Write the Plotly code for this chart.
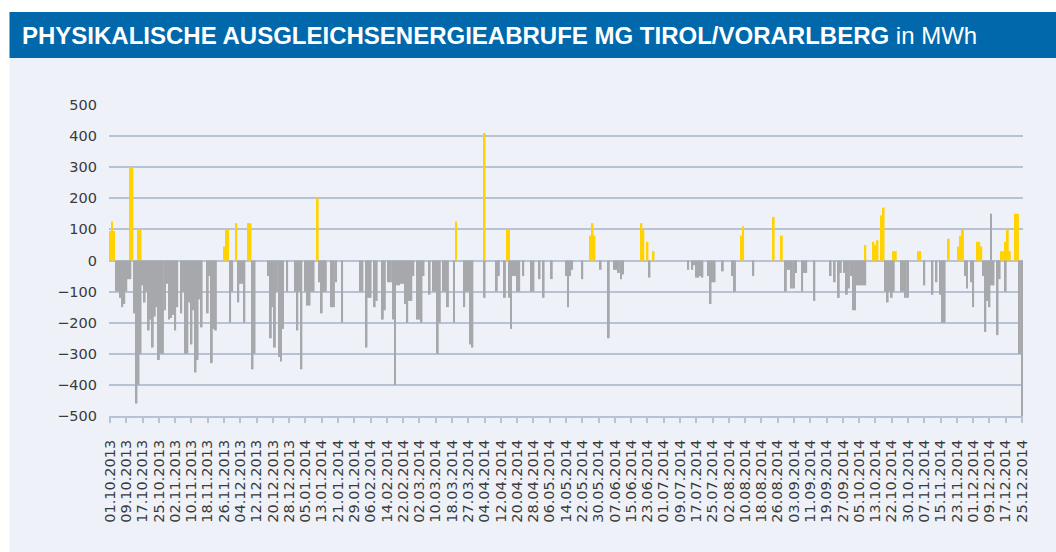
"""Physikalische Ausgleichsenergieabrufe MG Tirol/Vorarlberg - daily bars."""

import pandas as pd
import plotly.graph_objects as go

_PANEL = "#EEF2F8"
_BLUE = "#0068AB"
_GRID = "#B7C3D5"
_TEXT = "#3A3A3A"
_POS = "#FFD200"
_NEG = "#A7A8AB"

# daily categories 01.10.2013 .. 25.12.2014 (two days missing in the source)
_days = pd.date_range("2013-10-01", "2014-12-25")
_days = _days[~_days.isin(pd.to_datetime(["2014-03-23", "2014-10-19"]))]
dates = [d.strftime("%d.%m.%Y") for d in _days]
tick_labels = dates[::8]

# positive calls (MWh), one row per 8 days
pos = [
    95, 125, 95, 0, 0, 0, 0, 0,            # 01.10.2013
    0, 0, 300, 300, 0, 0, 100, 100,         # 09.10.2013
    0, 0, 0, 0, 0, 0, 0, 0,                 # 17.10.2013
    0, 0, 0, 0, 0, 0, 0, 0,                 # 25.10.2013
    0, 0, 0, 0, 0, 0, 0, 0,                 # 02.11.2013
    0, 0, 0, 0, 0, 0, 0, 0,                 # 10.11.2013
    0, 0, 0, 0, 0, 0, 0, 0,                 # 18.11.2013
    45, 100, 100, 0, 0, 0, 120, 0,          # 26.11.2013
    0, 0, 0, 0, 120, 120, 0, 0,             # 04.12.2013
    0, 0, 0, 0, 0, 0, 0, 0,                 # 12.12.2013
    0, 0, 0, 0, 0, 0, 0, 0,                 # 20.12.2013
    0, 0, 0, 0, 0, 0, 0, 0,                 # 28.12.2013
    0, 0, 0, 0, 0, 0, 200, 0,               # 05.01.2014
    0, 0, 0, 0, 0, 0, 0, 0,                 # 13.01.2014
    0, 0, 0, 0, 0, 0, 0, 0,                 # 21.01.2014
    0, 0, 0, 0, 0, 0, 0, 0,                 # 29.01.2014
    0, 0, 0, 0, 0, 0, 0, 0,                 # 06.02.2014
    0, 0, 0, 0, 0, 0, 0, 0,                 # 14.02.2014
    0, 0, 0, 0, 0, 0, 0, 0,                 # 22.02.2014
    0, 0, 0, 0, 0, 0, 0, 0,                 # 02.03.2014
    0, 0, 0, 0, 0, 0, 0, 0,                 # 10.03.2014
    0, 0, 125, 0, 0, 0, 0, 0,               # 18.03.2014
    0, 0, 0, 0, 0, 0, 0, 0,                 # 27.03.2014
    410, 0, 0, 0, 0, 0, 0, 0,               # 04.04.2014
    0, 0, 0, 100, 100, 0, 0, 0,             # 12.04.2014
    0, 0, 0, 0, 0, 0, 0, 0,                 # 20.04.2014
    0, 0, 0, 0, 0, 0, 0, 0,                 # 28.04.2014
    0, 0, 0, 0, 0, 0, 0, 0,                 # 06.05.2014
    0, 0, 0, 0, 0, 0, 0, 0,                 # 14.05.2014
    0, 0, 0, 0, 80, 120, 80, 0,             # 22.05.2014
    0, 0, 0, 0, 0, 0, 0, 0,                 # 30.05.2014
    0, 0, 0, 0, 0, 0, 0, 0,                 # 07.06.2014
    0, 0, 0, 0, 0, 120, 100, 0,             # 15.06.2014
    60, 0, 0, 30, 0, 0, 0, 0,               # 23.06.2014
    0, 0, 0, 0, 0, 0, 0, 0,                 # 01.07.2014
    0, 0, 0, 0, 0, 0, 0, 0,                 # 09.07.2014
    0, 0, 0, 0, 0, 0, 0, 0,                 # 17.07.2014
    0, 0, 0, 0, 0, 0, 0, 0,                 # 25.07.2014
    0, 0, 0, 0, 0, 0, 80, 110,              # 02.08.2014
    0, 0, 0, 0, 0, 0, 0, 0,                 # 10.08.2014
    0, 0, 0, 0, 0, 0, 140, 0,               # 18.08.2014
    0, 0, 80, 0, 0, 0, 0, 0,                # 26.08.2014
    0, 0, 0, 0, 0, 0, 0, 0,                 # 03.09.2014
    0, 0, 0, 0, 0, 0, 0, 0,                 # 11.09.2014
    0, 0, 0, 0, 0, 0, 0, 0,                 # 19.09.2014
    0, 0, 0, 0, 0, 0, 0, 0,                 # 27.09.2014
    0, 0, 0, 50, 0, 0, 0, 60,               # 05.10.2014
    50, 65, 0, 145, 170, 0, 0, 0,           # 13.10.2014
    0, 30, 30, 0, 0, 0, 0, 0,               # 22.10.2014
    0, 0, 0, 0, 0, 30, 30, 0,               # 29.10.2014
    0, 0, 0, 0, 0, 0, 0, 0,                 # 07.11.2014
    0, 0, 0, 0, 70, 0, 0, 0,                # 15.11.2014
    0, 45, 80, 100, 0, 0, 0, 0,             # 23.11.2014
    0, 0, 60, 60, 45, 0, 0, 0,              # 01.12.2014
    0, 0, 0, 0, 0, 0, 30, 30,               # 09.12.2014
    60, 100, 30, 0, 0, 150, 150, 0,         # 17.12.2014
    0,                                      # 25.12.2014
]

# negative calls (MWh)
neg = [
    0, 0, 0, -100, -100, -120, -150, -140,           # 01.10.2013
    -100, -60, -60, 0, -170, -460, -400, -300,       # 09.10.2013
    -80, -135, -100, -225, -190, -280, -180, -150,   # 17.10.2013
    -320, -300, -300, -160, -75, -190, -185, -175,   # 25.10.2013
    -225, -150, 0, -170, -100, -300, -300, -135,     # 02.11.2013
    -270, -160, -360, -320, -125, -215, 0, 0,        # 10.11.2013
    -170, -50, -330, -220, -225, 0, 0, 0,            # 18.11.2013
    0, 0, 0, -200, -100, 0, 0, -135,                 # 26.11.2013
    -75, -75, -200, 0, 0, 0, -350, -300,             # 04.12.2013
    0, 0, 0, 0, 0, 0, -50, -250,                     # 12.12.2013
    -150, -280, -100, -310, -325, -220, 0, -100,     # 20.12.2013
    0, 0, 0, -100, -225, -100, -350, 0,              # 28.12.2013
    -100, -145, -145, -100, -100, 0, 0, -70,         # 05.01.2014
    -170, -100, -100, 0, 0, -150, -150, -70,         # 13.01.2014
    0, 0, -200, 0, 0, 0, 0, 0,                       # 21.01.2014
    0, 0, 0, -100, -100, 0, -280, -120,              # 29.01.2014
    -120, 0, -150, -130, 0, 0, -190, -160,           # 06.02.2014
    0, -70, -70, -190, -400, -80, -80, -75,          # 14.02.2014
    -75, -140, -200, -130, -130, -50, 0, -190,       # 22.02.2014
    -190, -200, -50, 0, 0, -110, 0, -100,            # 02.03.2014
    -100, -300, -200, 0, -100, -100, -150, 0,        # 10.03.2014
    0, -200, 0, 0, 0, 0, -150, -100,                 # 18.03.2014
    -100, -270, -280, 0, 0, 0, 0, 0,                 # 27.03.2014
    -120, 0, 0, 0, 0, 0, -100, -50,                  # 04.04.2014
    0, 0, -120, 0, -120, -220, -50, -50,             # 12.04.2014
    -100, -100, 0, -50, 0, 0, 0, -100,               # 20.04.2014
    -100, 0, 0, -60, 0, -120, 0, 0,                  # 28.04.2014
    0, -60, 0, 0, 0, 0, 0, 0,                        # 06.05.2014
    -50, -150, -50, -30, 0, 0, 0, 0,                 # 14.05.2014
    -60, 0, 0, 0, 0, 0, 0, 0,                        # 22.05.2014
    0, -30, 0, 0, 0, -250, 0, 0,                     # 30.05.2014
    -30, -30, -40, -60, -45, 0, 0, 0,                # 07.06.2014
    0, 0, 0, 0, 0, 0, 0, 0,                          # 15.06.2014
    0, -55, 0, 0, 0, 0, 0, 0,                        # 23.06.2014
    0, 0, 0, 0, 0, 0, 0, 0,                          # 01.07.2014
    0, 0, 0, 0, -30, 0, -30, -15,                    # 09.07.2014
    -55, -55, -50, -55, 0, 0, -50, -140,             # 17.07.2014
    -70, -70, 0, 0, 0, -35, 0, 0,                    # 25.07.2014
    0, 0, -50, -100, 0, 0, 0, 0,                     # 02.08.2014
    0, 0, 0, 0, -50, 0, 0, 0,                        # 10.08.2014
    0, 0, 0, 0, 0, 0, 0, 0,                          # 18.08.2014
    0, 0, 0, 0, -100, -30, -30, -90,                 # 26.08.2014
    -90, -40, 0, 0, -100, -40, -40, 0,               # 03.09.2014
    0, 0, -130, 0, 0, 0, 0, 0,                       # 11.09.2014
    0, 0, -50, 0, -70, 0, -120, -40,                 # 19.09.2014
    0, -40, -110, -90, -50, -160, -160, -80,         # 27.09.2014
    -80, -80, -80, -80, 0, 0, 0, 0,                  # 05.10.2014
    0, 0, 0, 0, 0, -100, -135, -100,                 # 13.10.2014
    -120, -100, 0, 0, 0, -100, -100, -120,           # 22.10.2014
    -120, 0, 0, 0, 0, 0, 0, 0,                       # 29.10.2014
    -80, 0, 0, 0, -110, 0, -70, 0,                   # 07.11.2014
    -110, -200, -200, 0, 0, 0, 0, 0,                 # 15.11.2014
    0, 0, 0, 0, -50, -90, 0, -70,                    # 23.11.2014
    -150, 0, 0, 0, 0, -50, -230, -130,               # 01.12.2014
    -150, -80, -80, 0, -240, -60, 0, 0,              # 09.12.2014
    -100, 0, 0, 0, 0, 0, 0, -300,                    # 17.12.2014
    -500,                                            # 25.12.2014
]

# single odd grey spike above zero in December 2014
neg_spike_day = "10.12.2014"
neg_spike = 150

# plot area in pixels
W, H = 1056, 552
L, R, T, B = 109, 1023, 105, 416


def px(x):
    return (x - L) / (R - L)


def py(y):
    return (B - y) / (B - T)


fig = go.Figure()
fig.add_trace(go.Bar(x=dates, y=pos, marker_color=_POS, marker_line_width=0))
fig.add_trace(go.Bar(x=dates, y=neg, marker_color=_NEG, marker_line_width=0))
fig.add_trace(go.Bar(x=[neg_spike_day], y=[neg_spike], marker_color=_NEG,
                     marker_line_width=0, width=0.5))

fig.update_layout(
    width=W,
    height=H,
    barmode="relative",
    bargap=0.05,
    showlegend=False,
    paper_bgcolor=_PANEL,
    plot_bgcolor=_PANEL,
    font={"family": "DejaVu Sans, sans-serif", "color": _TEXT},
    margin={"l": L, "r": W - R, "t": T, "b": H - B, "pad": 0},
    xaxis={
        "type": "category",
        "categoryorder": "array",
        "categoryarray": dates,
        "range": [-0.5, len(dates) - 0.5],
        "tickvals": tick_labels,
        "ticktext": tick_labels,
        "tickangle": -90,
        "tickfont": {"size": 14.5, "color": _TEXT},
        "ticks": "outside",
        "ticklen": 5,
        "tickwidth": 1.5,
        "tickcolor": _GRID,
        "ticklabelstandoff": 11,
        "showgrid": False,
        "showline": True,
        "linecolor": _GRID,
        "linewidth": 2,
        "zeroline": False,
    },
    yaxis={
        "range": [-500, 500],
        "tickvals": list(range(-500, 501, 100)),
        "tickfont": {"size": 14.5, "color": _TEXT},
        "ticklabelstandoff": 11,
        "showgrid": True,
        "gridcolor": _GRID,
        "gridwidth": 1.5,
        "zeroline": True,
        "zerolinecolor": _GRID,
        "zerolinewidth": 2,
        "showline": False,
        "ticks": "",
    },
)

# white frame strips and blue header band
fig.add_shape(type="rect", xref="paper", yref="paper", layer="below",
              x0=px(0), x1=px(W), y0=py(12), y1=py(0),
              fillcolor="white", line_width=0)
fig.add_shape(type="rect", xref="paper", yref="paper", layer="below",
              x0=px(0), x1=px(9.5), y0=py(H), y1=py(0),
              fillcolor="white", line_width=0)
fig.add_shape(type="rect", xref="paper", yref="paper", layer="below",
              x0=px(9.5), x1=px(W), y0=py(58), y1=py(12),
              fillcolor=_BLUE, line_width=0)
fig.add_annotation(
    xref="paper", yref="paper", x=px(20), y=py(35),
    xanchor="left", yanchor="middle", showarrow=False,
    text="<b>PHYSIKALISCHE AUSGLEICHSENERGIEABRUFE MG TIROL/VORARLBERG</b> in MWh",
    font={"family": "Liberation Sans, Arial, sans-serif", "size": 24, "color": "white"},
)

# the page body has a default margin; drop it so the figure sits at 0,0
fig.write_html(
    "out.html",
    config={"displayModeBar": False},
    post_script="document.body.style.margin = '0';",
)
